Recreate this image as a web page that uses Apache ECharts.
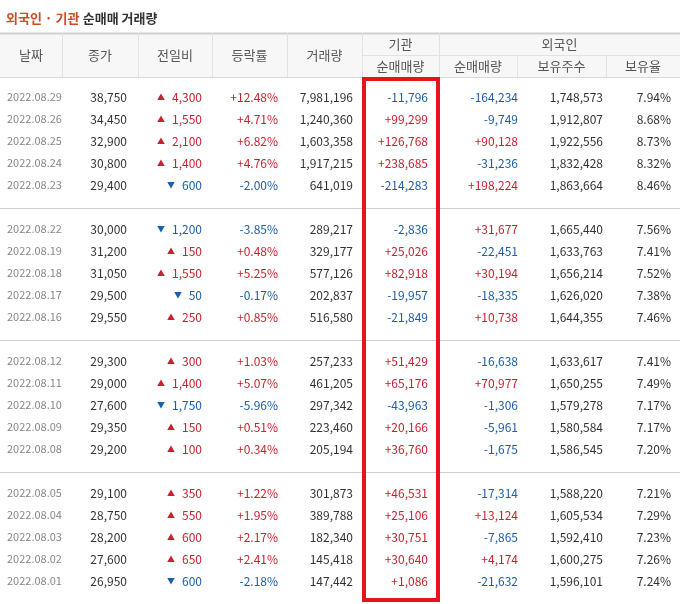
<!DOCTYPE html>
<html><head><meta charset="utf-8">
<script src="https://cdn.jsdelivr.net/npm/echarts@6/dist/echarts.min.js"></script>
<style>html,body{margin:0;padding:0;background:#fff}#c{width:680px;height:604px}</style>
</head><body><div id="c"></div>
<script>
const dates=["2022.08.29","2022.08.26","2022.08.25","2022.08.24","2022.08.23","2022.08.22","2022.08.19","2022.08.18","2022.08.17","2022.08.16","2022.08.12","2022.08.11","2022.08.10","2022.08.09","2022.08.08","2022.08.05","2022.08.04","2022.08.03","2022.08.02","2022.08.01"];
const closePrice=[38750,34450,32900,30800,29400,30000,31200,31050,29500,29550,29300,29000,27600,29350,29200,29100,28750,28200,27600,26950];
const change=[4300,1550,2100,1400,-600,-1200,150,1550,-50,250,300,1400,-1750,150,100,350,550,600,650,-600];
const rate=[12.48,4.71,6.82,4.76,-2.00,-3.85,0.48,5.25,-0.17,0.85,1.03,5.07,-5.96,0.51,0.34,1.22,1.95,2.17,2.41,-2.18];
const volume=[7981196,1240360,1603358,1917215,641019,289217,329177,577126,202837,516580,257233,461205,297342,223460,205194,301873,389788,182340,145418,147442];
const instNet=[-11796,99299,126768,238685,-214283,-2836,25026,82918,-19957,-21849,51429,65176,-43963,20166,36760,46531,25106,30751,30640,1086];
const foreignNet=[-164234,-9749,90128,-31236,198224,31677,-22451,30194,-18335,10738,-16638,70977,-1306,-5961,-1675,-17314,13124,-7865,4174,-21632];
const foreignHold=[1748573,1912807,1922556,1832428,1863664,1665440,1633763,1656214,1626020,1644355,1633617,1650255,1579278,1580584,1586545,1588220,1605534,1592410,1600275,1596101];
const foreignRatio=[7.94,8.68,8.73,8.32,8.46,7.56,7.41,7.52,7.38,7.46,7.41,7.49,7.17,7.17,7.20,7.21,7.29,7.23,7.26,7.24];
const headers=["날짜","종가","전일비","등락률","거래량"];
const subHeaders=["순매매량","순매매량","보유주수","보유율"];

const RED="#c9222f",BLUE="#1d5ea8",TXT="#333",GRAY="#888";
const colX=[0,62,138,212,287,362,439,517,606,680];
const rightX=[0,127,202,278,353,428,518,603,671];
const fmt=n=>Math.abs(n).toLocaleString('en-US');
const sgn=n=>(n>0?'+':n<0?'-':'')+fmt(n);
const col=n=>n>0?RED:n<0?BLUE:TXT;
const F='"Noto Sans CJK KR", "Noto Sans", sans-serif';
const g=[];
function txt(x,y,s,fill,align,size,weight){g.push({type:'text',x:x,y:y,style:{text:s,fill:fill,align:align||'right',verticalAlign:'middle',font:(weight||'normal')+' '+(size||12)+'px '+F}});}
function line(x1,y1,x2,y2,c,w){g.push({type:'line',shape:{x1,y1,x2,y2},style:{stroke:c,lineWidth:w||1}});}
function rect(x,y,w,h,fill){g.push({type:'rect',shape:{x,y,width:w,height:h},style:{fill}});}

g.push({type:'text',x:6,y:18,style:{rich:{a:{fill:'#cf4a26',font:'bold 13px '+F},b:{fill:'#333',font:'bold 13px '+F}},text:'{a|외국인 · 기관} {b|순매매 거래량}',verticalAlign:'middle'}});
rect(0,33,680,44,'#f7f7f7');
line(0,33.5,680,33.5,'#cfcfcf',2);
line(0,77.5,680,77.5,'#d8d8d8',1);
line(362,55.5,680,55.5,'#e2e2e2',1);
for(let i=1;i<9;i++){const x=colX[i]+0.5;const top=(i===7||i===8)?55:33;line(x,top,x,77,'#e2e2e2',1);}
headers.forEach((h,i)=>txt((colX[i]+colX[i+1])/2,55,h,'#555','center',13));
txt((362+439)/2,44,'기관','#555','center',13);
txt((439+680)/2,44,'외국인','#555','center',13);
subHeaders.forEach((h,i)=>txt((colX[i+5]+colX[i+6])/2,66,h,'#555','center',13));

dates.forEach((d,i)=>{
  const grp=Math.floor(i/5),k=i%5;
  const y=97+grp*132+k*22;
  txt(7,y,d,GRAY,'left',11);
  txt(rightX[1],y,fmt(closePrice[i]),TXT);
  const c=change[i];
  const s=fmt(c);
  txt(rightX[2],y,s,col(c));
  const w=s.replace(',','').length*7+(s.includes(',')?3:0);
  txt(rightX[2]-w-6,y,c>0?'▲':'▼',col(c),'right',8);
  txt(rightX[3],y,(rate[i]>0?'+':'')+rate[i].toFixed(2)+'%',col(rate[i]));
  txt(rightX[4],y,fmt(volume[i]),TXT);
  txt(rightX[5],y,sgn(instNet[i]),col(instNet[i]));
  txt(rightX[6],y,sgn(foreignNet[i]),col(foreignNet[i]));
  txt(rightX[7],y,fmt(foreignHold[i]),TXT);
  txt(rightX[8],y,foreignRatio[i].toFixed(2)+'%',TXT);
});
for(let s=0;s<3;s++){const y=208.5+s*132;line(0,y,680,y,'#d0d0d0',1);}
g.push({type:'rect',shape:{x:364,y:79,width:74,height:521},style:{fill:'none',stroke:'#e8141d',lineWidth:4},z:10});

const chart=echarts.init(document.getElementById('c'));
chart.setOption({animation:false,graphic:{elements:g}});
</script></body></html>
